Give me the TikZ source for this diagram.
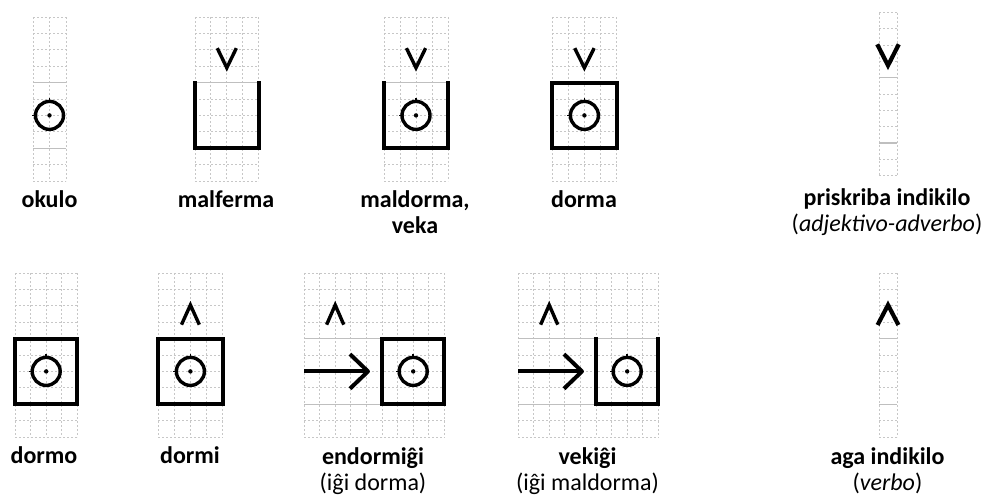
\documentclass[tikz,border=0pt]{standalone}
\usepackage{fontspec}
\setmainfont{Carlito}
\usepackage{tikz}
\usetikzlibrary{positioning}

% krado: punktita reto kun 10 vicoj kaj #1 kolumnoj (en la unuoj de la skopo)
\newcommand\krado[1]{%
  \foreach \i in {0,...,#1} {\draw[kradlinio] (\i,0) -- (\i,10);}
  \foreach \j in {0,1,2,3,5,6,7,9,10} {\draw[kradlinio] (0,\j) -- (#1,\j);}
  \foreach \j in {4,8} {\draw[kradsolida] (0,\j) -- (#1,\j);}}

\begin{document}
\begin{tikzpicture}[
		x=0.5pt, y=-0.5pt,
		kradlinio/.style={draw=black!22, line width=0.5pt, dash pattern=on 1.2pt off 0.8pt},
		kradsolida/.style={draw=black!25, line width=0.7pt},
		kadro/.style={draw=black, line width=2pt, line join=miter, line cap=rect},
		okulo/.style={draw=black, line width=1.7pt},
		pinto/.style={draw=black, line width=0.8pt},
		signo/.style={draw=black, line width=1.7pt, line join=miter},
		grandsigno/.style={signo, line width=2.1pt},
		sago/.style={draw=black, line width=2pt, line join=round},
		etikedo/.style={anchor=base, align=center, inner sep=0pt,
				font=\fontsize{12}{13}\selectfont} % titolo grase, klarigo normale
	]
	\useasboundingbox (0,0) rectangle (988,498);

	% supra vico
	\begin{scope}[shift={(33,17)}, x=8.25pt, y=-8.2pt]
		\krado{2}
		\draw[okulo] (1,6) circle[radius=7pt];
		\fill (1,6) circle[radius=1.1pt];
		\draw[pinto] (1,6) +(0,7.5pt) -- +(0,8.6pt) (1,6) +(-7.5pt,0) -- +(-8.6pt,0);
	\end{scope}

	\begin{scope}[shift={(195,17)}, x=7.95pt, y=-8.2pt]
		\krado{4}
		\draw[kadro] (0,4) -- (0,8) -- (4,8) -- (4,4);
		\draw[signo] (1.4,1.9) -- (2,3.1) -- (2.6,1.9);
	\end{scope}

	\begin{scope}[shift={(384,17)}, x=8pt, y=-8.2pt]
		\krado{4}
		\draw[kadro] (0,4) -- (0,8) -- (4,8) -- (4,4);
		\draw[signo] (1.4,1.9) -- (2,3.1) -- (2.6,1.9);
		\draw[okulo] (2,6) circle[radius=7pt];
		\fill (2,6) circle[radius=1.1pt];
		\draw[pinto] (2,6) +(0,7.5pt) -- +(0,8.6pt) (2,6) +(-7.5pt,0) -- +(-8.6pt,0);
	\end{scope}

	\begin{scope}[shift={(552,17)}, x=8.1pt, y=-8.2pt]
		\krado{4}
		\draw[kadro] (0,4) rectangle (4,8);
		\draw[signo] (1.4,1.9) -- (2,3.1) -- (2.6,1.9);
		\draw[okulo] (2,6) circle[radius=7pt];
		\fill (2,6) circle[radius=1.1pt];
		\draw[pinto] (2,6) +(0,7.5pt) -- +(0,8.6pt) (2,6) +(-7.5pt,0) -- +(-8.6pt,0);
	\end{scope}

	\begin{scope}[shift={(879,12.5)}, x=9pt, y=-8.15pt]
		\krado{1}
		\draw[grandsigno] (-0.1,1.95) -- (0.5,3.25) -- (1.1,1.95);
	\end{scope}

	% malsupra vico
	\begin{scope}[shift={(15,273)}, x=7.8pt, y=-8.2pt]
		\krado{4}
		\draw[kadro] (0,4) rectangle (4,8);
		\draw[okulo] (2,6) circle[radius=7pt];
		\fill (2,6) circle[radius=1.1pt];
		\draw[pinto] (2,6) +(0,7.5pt) -- +(0,8.6pt) (2,6) +(-7.5pt,0) -- +(-8.6pt,0);
	\end{scope}

	\begin{scope}[shift={(158,273)}, x=8.1pt, y=-8.2pt]
		\krado{4}
		\draw[kadro] (0,4) rectangle (4,8);
		\draw[signo] (1.45,3.15) -- (2,1.95) -- (2.55,3.15);
		\draw[okulo] (2,6) circle[radius=7pt];
		\fill (2,6) circle[radius=1.1pt];
		\draw[pinto] (2,6) +(0,7.5pt) -- +(0,8.6pt) (2,6) +(-7.5pt,0) -- +(-8.6pt,0);
	\end{scope}

	\begin{scope}[shift={(304,273)}, x=7.8pt, y=-8.2pt]
		\krado{9}
		\draw[sago] (0,6) -- (4.1,6);
		\draw[sago] (2.95,4.95) -- (4.1,6) -- (2.95,7.05);
		\draw[kadro] (5,4) rectangle (9,8);
		\draw[signo] (1.45,3.15) -- (2,1.95) -- (2.55,3.15);
		\draw[okulo] (7,6) circle[radius=7pt];
		\fill (7,6) circle[radius=1.1pt];
		\draw[pinto] (7,6) +(0,7.5pt) -- +(0,8.6pt) (7,6) +(-7.5pt,0) -- +(-8.6pt,0);
	\end{scope}

	\begin{scope}[shift={(518,273)}, x=7.8pt, y=-8.2pt]
		\krado{9}
		\draw[sago] (0,6) -- (4.1,6);
		\draw[sago] (2.95,4.95) -- (4.1,6) -- (2.95,7.05);
		\draw[kadro] (5,4) -- (5,8) -- (9,8) -- (9,4);
		\draw[signo] (1.45,3.15) -- (2,1.95) -- (2.55,3.15);
		\draw[okulo] (7,6) circle[radius=7pt];
		\fill (7,6) circle[radius=1.1pt];
		\draw[pinto] (7,6) +(0,7.5pt) -- +(0,8.6pt) (7,6) +(-7.5pt,0) -- +(-8.6pt,0);
	\end{scope}

	\begin{scope}[shift={(879,273)}, x=9pt, y=-8.2pt]
		\krado{1}
		\draw[grandsigno] (-0.08,3.17) -- (0.5,1.95) -- (1.08,3.17);
	\end{scope}

	% nomoj (base = la lasta linio)
	\node[etikedo] (okulo) at (49.5,207) {\textbf{okulo}};
	\node[etikedo] (malferma) at (226,207) {\textbf{malferma}};
	\node[etikedo] (maldorma) at (415,233) {\textbf{maldorma,}\\\textbf{veka}};
	\node[etikedo] (dorma) at (584,207) {\textbf{dorma}};
	\node[etikedo] (priskriba) at (887,231) {\textbf{priskriba indikilo}\\(\textit{adjektivo-adverbo})};
	\node[etikedo] (dormo) at (44,463) {\textbf{dormo}};
	\node[etikedo] (dormi) at (190,463) {\textbf{dormi}};
	\node[etikedo] (endormigxi) at (373,490) {\textbf{endormiĝi}\\(iĝi dorma)};
	\node[etikedo] (vekigxi) at (587.5,490) {\textbf{vekiĝi}\\(iĝi maldorma)};
	\node[etikedo] (aga) at (887.5,490) {\textbf{aga indikilo}\\(\textit{verbo})};
\end{tikzpicture}
\end{document}
